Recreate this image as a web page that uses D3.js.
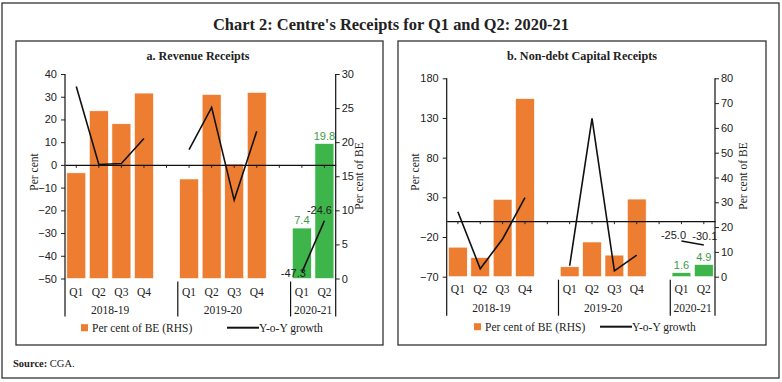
<!DOCTYPE html>
<html>
<head>
<meta charset="utf-8">
<script src="https://cdn.jsdelivr.net/npm/d3@7"></script>
<style>
  html, body { margin: 0; padding: 0; background: #fff; }
  svg { display: block; }
</style>
</head>
<body>
<svg id="chart" width="782" height="382"></svg>
<script>
// ---------------- DATA ----------------
const slots = ["18Q1","18Q2","18Q3","18Q4","gapA","19Q1","19Q2","19Q3","19Q4","gapB","20Q1","20Q2"];
const periods = ["18Q1","18Q2","18Q3","18Q4","19Q1","19Q2","19Q3","19Q4","20Q1","20Q2"];
const quarterLabels = ["Q1","Q2","Q3","Q4","Q1","Q2","Q3","Q4","Q1","Q2"];
const yearOf = ["2018-19","2018-19","2018-19","2018-19","2019-20","2019-20","2019-20","2019-20","2020-21","2020-21"];
const years = ["2018-19","2019-20","2020-21"];

const revenueBE = [15.5, 24.6, 22.7, 27.2, 14.6, 27.0, 16.8, 27.3, 7.4, 19.8];
const revenueGrowth = [34.5, 0.2, 0.6, 11.6, 6.7, 25.3, -15.5, 14.8, -47.3, -24.6];
const capitalBE = [11.9, 7.7, 31.2, 71.8, 4.0, 14.0, 8.7, 31.3, 1.6, 4.9];
const capitalGrowth = [11.9, -60.0, -22.5, 29.5, -56.2, 129.5, -62.6, -42.7, -25.0, -30.1];

const revLeftTicks = [40, 30, 20, 10, 0, -10, -20, -30, -40, -50];
const revRightTicks = [0, 5, 10, 15, 20, 25, 30];
const capLeftTicks = [180, 130, 80, 30, -20, -70];
const capRightTicks = [0, 10, 20, 30, 40, 50, 60, 70, 80];

const labelledPeriods = ["20Q1", "20Q2"];

// ---------------- STYLE ----------------
const ORANGE = "#ED7D31";
const GREEN = "#3DB54A";
const GREEN_TEXT = "#3C9C46";
const SERIF = "'Liberation Serif', 'DejaVu Serif', serif";
const SANS = "'Liberation Sans', Arial, sans-serif";

const svg = d3.select("#chart");

// outer frame
svg.append("rect").attr("x", 2).attr("y", 3).attr("width", 777).attr("height", 375)
  .attr("fill", "none").attr("stroke", "#333").attr("stroke-width", 1.3);

svg.append("text").attr("x", 391).attr("y", 30).attr("text-anchor", "middle")
  .attr("font-family", SERIF).attr("font-weight", "bold").attr("font-size", 17)
  .attr("fill", "#222").attr("textLength", 356).attr("lengthAdjust", "spacingAndGlyphs")
  .text("Chart 2: Centre's Receipts for Q1 and Q2: 2020-21");

const src = svg.append("text").attr("x", 13).attr("y", 367)
  .attr("font-family", SERIF).attr("font-size", 10.5).attr("fill", "#222");
src.append("tspan").attr("font-weight", "bold").text("Source:");
src.append("tspan").text(" CGA.");

function drawPanel(cfg) {
  const g = svg.append("g");
  g.append("rect").attr("x", cfg.box[0]).attr("y", cfg.box[1])
    .attr("width", cfg.box[2]).attr("height", cfg.box[3])
    .attr("fill", "none").attr("stroke", "#333").attr("stroke-width", 1.3);

  g.append("text").attr("x", cfg.titleX).attr("y", 60).attr("text-anchor", "middle")
    .attr("font-family", SERIF).attr("font-weight", "bold").attr("font-size", 12.5)
    .attr("fill", "#222").attr("textLength", cfg.titleW).attr("lengthAdjust", "spacingAndGlyphs")
    .text(cfg.title);

  const x = d3.scaleBand().domain(slots).range(cfg.xRange)
    .paddingInner(0.16).paddingOuter(0.08);
  const yL = d3.scaleLinear().domain(cfg.leftDomain).range(cfg.yRange);
  const yR = d3.scaleLinear().domain(cfg.rightDomain).range(cfg.yRange);
  const step = x.step();
  const x0 = cfg.xRange[0], x1 = cfg.xRange[1];
  const cx = p => x(p) + x.bandwidth() / 2;

  // bars
  g.append("g").selectAll("rect").data(periods).join("rect")
    .attr("x", p => x(p))
    .attr("width", x.bandwidth())
    .attr("y", (p, i) => yR(cfg.be[i]))
    .attr("height", (p, i) => yR(0) - yR(cfg.be[i]))
    .attr("fill", p => labelledPeriods.includes(p) ? GREEN : ORANGE)
    .attr("stroke", "#fff").attr("stroke-width", 0.6);

  // left axis
  const la = g.append("g").attr("transform", `translate(${x0},0)`)
    .call(d3.axisLeft(yL).tickValues(cfg.leftTicks).tickSize(4).tickSizeOuter(0).tickFormat(d3.format("d")));
  la.select(".domain").remove();
  la.selectAll("text").attr("font-family", SANS).attr("font-size", 11).attr("fill", "#222").attr("dx", "-1");
  la.selectAll("line").attr("stroke", "#222");

  // right axis
  const ra = g.append("g").attr("transform", `translate(${x1},0)`)
    .call(d3.axisRight(yR).tickValues(cfg.rightTicks).tickSize(4).tickSizeOuter(0).tickFormat(d3.format("d")));
  ra.select(".domain").remove();
  ra.selectAll("text").attr("font-family", SANS).attr("font-size", 11).attr("fill", "#222").attr("dx", "-1");
  ra.selectAll("line").attr("stroke", "#222");

  // zero axis with category ticks
  const za = g.append("g").attr("transform", `translate(0,${yL(0)})`)
    .call(d3.axisBottom(x).tickSize(3).tickSizeOuter(0).tickFormat(""));
  za.select(".domain").attr("stroke", "#111").attr("stroke-width", 1.2);
  za.selectAll("line").attr("stroke", "#222");

  // vertical axis lines + separators
  const bottom = cfg.sepBottom;
  [x0, x1].forEach(xx => {
    g.append("line").attr("x1", xx).attr("x2", xx).attr("y1", cfg.yRange[1]).attr("y2", bottom)
      .attr("stroke", "#111").attr("stroke-width", 1.2);
  });
  [5, 10].forEach(i => {
    const xx = x0 + i * step;
    g.append("line").attr("x1", xx).attr("x2", xx).attr("y1", cfg.yRange[0] + 3).attr("y2", bottom)
      .attr("stroke", "#111").attr("stroke-width", 1.2);
  });

  // quarter labels
  g.append("g").selectAll("text").data(periods).join("text")
    .attr("x", p => cx(p)).attr("y", cfg.qY).attr("text-anchor", "middle")
    .attr("font-family", SERIF).attr("font-size", 11.5).attr("fill", "#222")
    .text((p, i) => quarterLabels[i]);

  // year labels
  years.forEach(yr => {
    const idx = periods.map((p, i) => yearOf[i] === yr ? p : null).filter(Boolean);
    const c = (cx(idx[0]) + cx(idx[idx.length - 1])) / 2;
    g.append("text").attr("x", c).attr("y", cfg.yearY).attr("text-anchor", "middle")
      .attr("font-family", SERIF).attr("font-size", 11.5).attr("fill", "#222").text(yr);
  });

  // growth line, one segment per year
  const line = d3.line().x(d => cx(d.p)).y(d => yL(d.v));
  years.forEach(yr => {
    const pts = periods.map((p, i) => ({ p, v: cfg.growth[i], yr: yearOf[i] })).filter(d => d.yr === yr);
    g.append("path").attr("d", line(pts)).attr("fill", "none")
      .attr("stroke", "#111").attr("stroke-width", 1.6);
  });

  // data labels for 2020-21
  labelledPeriods.forEach((p, k) => {
    const i = periods.indexOf(p);
    g.append("text").attr("x", cx(p)).attr("y", yR(cfg.be[i]) - 4).attr("text-anchor", "middle")
      .attr("font-family", SANS).attr("font-size", 11).attr("fill", GREEN_TEXT)
      .text(cfg.be[i].toFixed(1));
    const off = cfg.growthLabelOffsets[k];
    g.append("text").attr("x", cx(p) + off[0]).attr("y", yL(cfg.growth[i]) + off[1])
      .attr("text-anchor", off[2])
      .attr("font-family", SANS).attr("font-size", 11).attr("fill", "#222")
      .text(cfg.growth[i].toFixed(1));
  });

  // axis titles
  g.append("text").attr("transform", `translate(${cfg.leftTitleX},${cfg.titleMidY}) rotate(-90)`)
    .attr("text-anchor", "middle").attr("font-family", SERIF).attr("font-size", 11.5).attr("fill", "#222")
    .text("Per cent");
  g.append("text").attr("transform", `translate(${cfg.rightTitleX},${cfg.titleMidY + 4}) rotate(-90)`)
    .attr("text-anchor", "middle").attr("font-family", SERIF).attr("font-size", 11.5).attr("fill", "#222")
    .text("Per cent of BE");

  // legend
  const lx = cfg.legendX, ly = cfg.legendY;
  g.append("rect").attr("x", lx).attr("y", ly - 3.5).attr("width", 7).attr("height", 7).attr("fill", ORANGE);
  g.append("text").attr("x", lx + 11).attr("y", ly + 4).attr("font-family", SERIF).attr("font-size", 11.5)
    .attr("fill", "#222").text("Per cent of BE (RHS)");
  g.append("line").attr("x1", cfg.legendLineX).attr("x2", cfg.legendLineX + 32).attr("y1", ly).attr("y2", ly)
    .attr("stroke", "#111").attr("stroke-width", 2);
  g.append("text").attr("x", cfg.legendLineX + 32).attr("y", ly + 4).attr("font-family", SERIF).attr("font-size", 11.5)
    .attr("fill", "#222").text("Y-o-Y growth");
}

drawPanel({
  box: [16, 41, 367, 304],
  title: "a. Revenue Receipts", titleX: 198, titleW: 103,
  xRange: [65, 335.7], yRange: [278.5, 74],
  leftDomain: [-50, 40], rightDomain: [0, 30],
  leftTicks: revLeftTicks, rightTicks: revRightTicks,
  be: revenueBE, growth: revenueGrowth,
  sepBottom: 316.5, qY: 295.5, yearY: 314,
  growthLabelOffsets: [[4, 5, "end"], [-5, -7, "middle"]],
  leftTitleX: 38, rightTitleX: 363, titleMidY: 172,
  legendX: 81, legendLineX: 227, legendY: 327.7
});

drawPanel({
  box: [398, 41, 368, 304],
  title: "b. Non-debt Capital Receipts", titleX: 582, titleW: 150,
  xRange: [446.7, 715], yRange: [276.7, 78.3],
  leftDomain: [-70, 180], rightDomain: [0, 80],
  leftTicks: capLeftTicks, rightTicks: capRightTicks,
  be: capitalBE, growth: capitalGrowth,
  sepBottom: 315.7, qY: 293, yearY: 311.5,
  growthLabelOffsets: [[-8, -2, "middle"], [1, -5, "middle"]],
  leftTitleX: 419, rightTitleX: 747, titleMidY: 172,
  legendX: 474, legendLineX: 600, legendY: 326.7
});
</script>
</body>
</html>
